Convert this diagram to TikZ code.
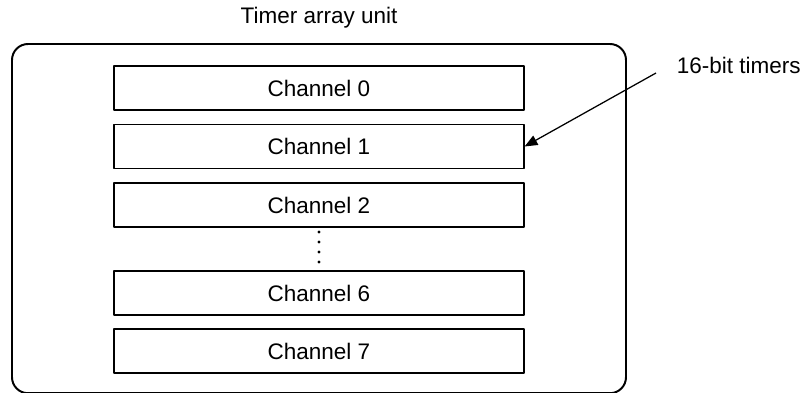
\documentclass[tikz,border=0pt]{standalone}
\usepackage{fontspec}
\setmainfont{Liberation Sans}
\usetikzlibrary{arrows.meta}

\tikzset{
	chbox/.style={draw, line width=0.9pt, minimum width=10.25cm, minimum height=1.1cm, inner sep=0pt},
}

\begin{document}
\begin{tikzpicture}[font=\fontsize{16}{19}\selectfont,line join=round,>={Triangle[length=0.32cm,width=0.26cm]}]
	\useasboundingbox (0,0) rectangle (20.05,9.8);
	
	\coordinate (S) at (16.4, 7.975);
	
	% outer unit
	\draw[line width=1.4pt, rounded corners=0.4cm] (0.3,-0.03) rectangle (15.65,8.7);
	\node (title) at (7.975,9.35) {Timer array unit};
	
	% channels
	\node[chbox] (ch0) at (7.975,7.6) {Channel 0};
	\node[chbox] (ch1) at (7.975,6.1375) {Channel 1};
	\node[chbox] (ch2) at (7.975,4.675) {Channel 2};
	\node[chbox] (ch6) at (7.975,2.475) {Channel 6};
	\node[chbox] (ch7) at (7.975,1.025) {Channel 7};
	
	\foreach \y in {4.0,3.75,3.5,3.25}
		\fill (7.975,\y) circle (0.04);
	
	\node[anchor=west] (timers) at (16.8,8.175) {16-bit timers};
	\draw[->, line width=0.9pt] (S) -- (ch1.east);
\end{tikzpicture}
\end{document}
